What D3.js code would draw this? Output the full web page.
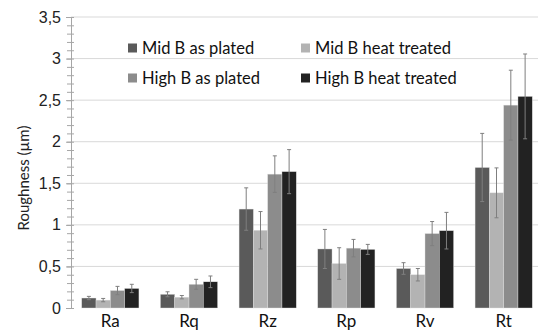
<!DOCTYPE html>
<html>
<head>
<meta charset="utf-8">
<script src="https://cdn.jsdelivr.net/npm/d3@7"></script>
<style>
  body { margin: 0; background: #fff; }
  svg { display: block; font-family: Lato, "Open Sans", sans-serif; }
</style>
</head>
<body>
<div id="chart"></div>
<script>
// categories and series
const categories = ["Ra", "Rq", "Rz", "Rp", "Rv", "Rt"];
const series = ["Mid B as plated", "Mid B heat treated", "High B as plated", "High B heat treated"];
const colors = ["#5a5a5a", "#b3b3b3", "#8c8c8c", "#222222"];

// values per series (same order as categories)
const midPlated  = [0.12, 0.165, 1.19, 0.71, 0.475, 1.69];
const midHeat    = [0.095, 0.13, 0.935, 0.535, 0.40, 1.385];
const highPlated = [0.21, 0.285, 1.61, 0.72, 0.895, 2.44];
const highHeat   = [0.235, 0.315, 1.64, 0.705, 0.93, 2.545];

// error bar half-widths
const midPlatedErr  = [0.02, 0.03, 0.255, 0.235, 0.07, 0.41];
const midHeatErr    = [0.02, 0.02, 0.225, 0.19, 0.075, 0.30];
const highPlatedErr = [0.05, 0.06, 0.22, 0.105, 0.145, 0.42];
const highHeatErr   = [0.05, 0.07, 0.265, 0.06, 0.22, 0.51];

const yTicks = [0, 0.5, 1, 1.5, 2, 2.5, 3, 3.5];

const allVals = [midPlated, midHeat, highPlated, highHeat];
const allErrs = [midPlatedErr, midHeatErr, highPlatedErr, highHeatErr];

const width = 538, height = 330,
    margin = ({ top: 17, right: -5, bottom: 22, left: 71 });

const svg = d3.select("#chart")
    .append("svg")
    .attr("width", width)
    .attr("height", height);

const x0 = d3.scaleBand()
    .domain(categories)
    .range([margin.left, width - margin.right])
    .padding(0);

const x1 = d3.scaleBand()
    .domain(series)
    .range([0, x0.bandwidth()])
    .paddingInner(0)
    .paddingOuter(0.75);

const y = d3.scaleLinear()
    .domain([0, 3.5])
    .range([height - margin.bottom, margin.top]);

// gridlines
svg.append("g")
    .selectAll("line")
    .data(yTicks.slice(1))
    .join("line")
    .attr("x1", margin.left)
    .attr("x2", width - margin.right)
    .attr("y1", d => y(d))
    .attr("y2", d => y(d))
    .attr("stroke", "#d9d9d9")
    .attr("stroke-width", 1);

// minor ticks
const minor = d3.range(0, 3.5001, 0.1).map(d => +d.toFixed(1));
svg.append("g")
    .attr("transform", `translate(${margin.left}, 0)`)
    .call(d3.axisLeft(y).tickValues(minor).tickFormat("").tickSizeOuter(0))
    .call(g => g.select(".domain").remove())
    .call(g => g.selectAll(".tick line").attr("x1", 3).attr("x2", -4).attr("stroke", "#a6a6a6"));

// y axis
svg.append("g")
    .attr("transform", `translate(${margin.left}, 0)`)
    .call(d3.axisLeft(y).tickValues(yTicks).tickSizeOuter(0).tickSize(5).tickPadding(5)
        .tickFormat(d => String(d).replace(".", ",")))
    .call(g => g.select(".domain").attr("stroke", "#a6a6a6"))
    .call(g => g.selectAll(".tick line").attr("stroke", "#a6a6a6"))
    .call(g => g.selectAll("text").attr("font-size", 16).attr("fill", "#222"));

// bars
const groups = svg.append("g")
    .selectAll("g")
    .data(categories)
    .join("g")
    .attr("transform", d => `translate(${x0(d)}, 0)`);

groups.selectAll("rect")
    .data((c, i) => series.map((s, j) => ({ s, j, v: allVals[j][i], e: allErrs[j][i] })))
    .join("rect")
    .attr("x", d => x1(d.s))
    .attr("width", x1.bandwidth())
    .attr("y", d => y(d.v))
    .attr("height", d => y(0) - y(d.v))
    .attr("fill", d => colors[d.j])
    .attr("stroke", "#e0e0e0")
    .attr("stroke-width", 0.4);

// error bars
const eb = groups.selectAll("g.err")
    .data((c, i) => series.map((s, j) => ({ s, j, v: allVals[j][i], e: allErrs[j][i] })))
    .join("g")
    .attr("class", "err")
    .attr("stroke", "#7f7f7f")
    .attr("stroke-width", 1);

eb.append("line")
    .attr("x1", d => x1(d.s) + x1.bandwidth() / 2)
    .attr("x2", d => x1(d.s) + x1.bandwidth() / 2)
    .attr("y1", d => y(d.v + d.e))
    .attr("y2", d => y(d.v - d.e));

eb.selectAll("line.cap")
    .data(d => [d.v + d.e, d.v - d.e].map(v => ({ s: d.s, v })))
    .join("line")
    .attr("class", "cap")
    .attr("x1", d => x1(d.s) + x1.bandwidth() / 2 - 2)
    .attr("x2", d => x1(d.s) + x1.bandwidth() / 2 + 2)
    .attr("y1", d => y(d.v))
    .attr("y2", d => y(d.v));

// x labels
svg.append("g")
    .selectAll("text")
    .data(categories)
    .join("text")
    .attr("x", d => x0(d) + x0.bandwidth() / 2)
    .attr("y", 327)
    .attr("text-anchor", "middle")
    .attr("font-size", 17)
    .attr("fill", "#111")
    .text(d => d);

// y title
svg.append("text")
    .attr("transform", "translate(29, 178) rotate(-90)")
    .attr("text-anchor", "middle")
    .attr("font-size", 15)
    .attr("fill", "#222")
    .text("Roughness (µm)");

// legend
const legendPos = [[128, 48], [301, 48], [128, 78], [301, 78]];
const legend = svg.append("g")
    .selectAll("g")
    .data(series)
    .join("g")
    .attr("transform", (d, i) => `translate(${legendPos[i][0]}, ${legendPos[i][1]})`);

legend.append("rect")
    .attr("x", 0)
    .attr("y", -4.5)
    .attr("width", 9)
    .attr("height", 9)
    .attr("fill", (d, i) => colors[i]);

legend.append("text")
    .attr("x", 14)
    .attr("y", 0)
    .attr("dy", "0.35em")
    .attr("font-size", 16.5)
    .attr("fill", "#111")
    .text(d => d);
</script>
</body>
</html>
